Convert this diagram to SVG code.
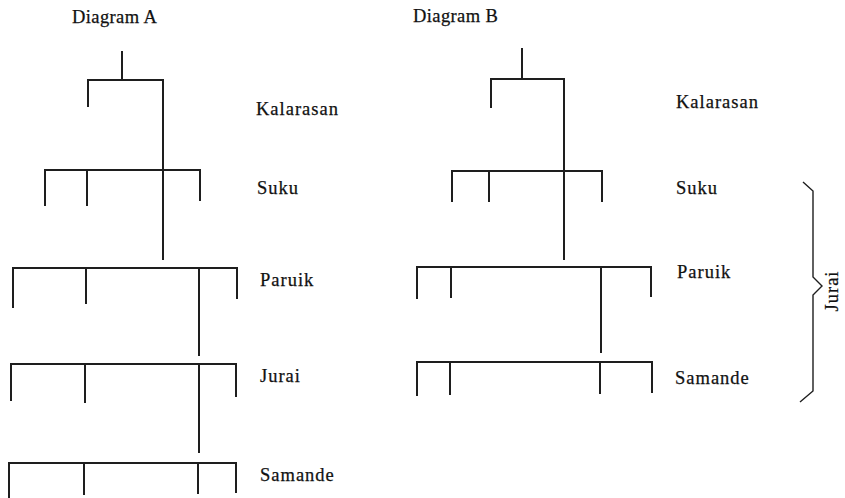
<svg xmlns="http://www.w3.org/2000/svg" width="845" height="498" viewBox="0 0 845 498">
  <style>
    .bg { fill: #ffffff; }
    .ln { fill: none; stroke: #1e1e1e; stroke-width: 2; stroke-linecap: square; stroke-linejoin: miter; }
    .br { fill: none; stroke: #1e1e1e; stroke-width: 1.4; }
    .lb { font-family: "Liberation Serif", "Times New Roman", serif; font-size: 18.5px; letter-spacing: 1px; fill: #111111; stroke: #111111; stroke-width: 0.25px; }
    .tt { letter-spacing: 0.4px; }
  </style>
  <rect class="bg" x="0" y="0" width="845" height="498"/>

  <!-- Titles -->
  <text class="lb tt" x="72" y="23">Diagram A</text>
  <text class="lb tt" x="413" y="22">Diagram B</text>

  <!-- Diagram A level labels -->
  <g id="a-kalarasan"><text class="lb" x="256" y="115">Kalarasan</text></g>
  <g id="a-suku"><text class="lb" x="257" y="194">Suku</text></g>
  <g id="a-paruik"><text class="lb" x="260" y="286">Paruik</text></g>
  <g id="a-jurai"><text class="lb" x="260" y="382">Jurai</text></g>
  <g id="a-samande"><text class="lb" x="260" y="481">Samande</text></g>

  <!-- Diagram B level labels -->
  <g id="b-kalarasan"><text class="lb" x="676" y="108">Kalarasan</text></g>
  <g id="b-suku"><text class="lb" x="676" y="194">Suku</text></g>
  <g id="b-paruik"><text class="lb" x="677" y="278">Paruik</text></g>
  <g id="b-samande"><text class="lb" x="675" y="384">Samande</text></g>

  <!-- Jurai brace spanning Suku to Samande -->
  <g id="b-jurai">
    <path class="br" d="M803,182 L813,191 L813,277 L822,286 L813,295 L813,391 L800,402"/>
    <text class="lb" transform="translate(838,291) rotate(-90)" text-anchor="middle">Jurai</text>
  </g>

  <g id="connectors">
    <!-- Diagram A -->
    <path class="ln" d="M122,52 V80"/>
    <path class="ln" d="M88,106 V80 H163 V259"/>
    <path class="ln" d="M45,205 V170 H200 V200"/>
    <path class="ln" d="M87,205 V170"/>
    <path class="ln" d="M13,307 V268 H237 V298"/>
    <path class="ln" d="M86,303 V268"/>
    <path class="ln" d="M199,268 V355"/>
    <path class="ln" d="M11,400 V364 H236 V396"/>
    <path class="ln" d="M85,402 V364"/>
    <path class="ln" d="M199,364 V452"/>
    <path class="ln" d="M9,497 V463 H236 V492"/>
    <path class="ln" d="M84,494 V463"/>
    <path class="ln" d="M198,463 V493"/>

    <!-- Diagram B -->
    <path class="ln" d="M522,49 V79"/>
    <path class="ln" d="M491,107 V79 H564 V259"/>
    <path class="ln" d="M452,201 V171 H602 V201"/>
    <path class="ln" d="M489,201 V171"/>
    <path class="ln" d="M417,298 V267 H651 V296"/>
    <path class="ln" d="M451,297 V267"/>
    <path class="ln" d="M601,267 V352"/>
    <path class="ln" d="M417,395 V362 H652 V392"/>
    <path class="ln" d="M450,394 V362"/>
    <path class="ln" d="M600,362 V393"/>
  </g>
</svg>
